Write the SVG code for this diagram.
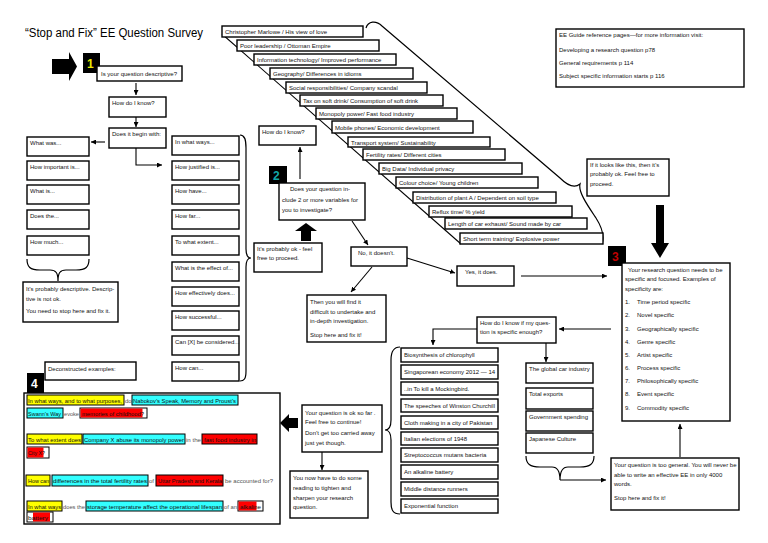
<svg xmlns="http://www.w3.org/2000/svg" width="768" height="543" viewBox="0 0 768 543">
<defs>
<marker id="ah" markerWidth="5" markerHeight="5" refX="5" refY="2.5" orient="auto" markerUnits="userSpaceOnUse"><path d="M0,0 L5,2.5 L0,5 z" fill="#000"/></marker>
<style>
.b{fill:#fff;stroke:#000;stroke-width:1.4}
.t{font-family:"Liberation Sans",Arial,sans-serif;font-size:6px;fill:#111}
.g{font-family:"Liberation Sans",Arial,sans-serif;font-size:6px;fill:#555}
.ln{fill:none;stroke:#000;stroke-width:1.1}
.ar{fill:none;stroke:#000;stroke-width:1.1;marker-end:url(#ah)}
.br{fill:none;stroke:#000;stroke-width:1.2}
.num{font-family:"Liberation Sans",Arial,sans-serif;font-size:12px;font-weight:bold}
.hy{fill:#ffff00;stroke:#000;stroke-width:1}
.hc{fill:#33ffff;stroke:#000;stroke-width:1}
.hr{fill:#ff0000;stroke:#000;stroke-width:1}
.hw{fill:#fff;stroke:#000;stroke-width:1}
</style>
</defs>
<rect width="768" height="543" fill="#fff"/>
<text x="25" y="37" font-family="Liberation Sans,Arial,sans-serif" font-size="12.5" textLength="178" lengthAdjust="spacingAndGlyphs">“Stop and Fix” EE Question Survey</text>

<g id="connectors">
<polygon points="52,59 69,59 69,52 77,66.5 69,81 69,74 52,74" fill="#000"/>
<line class="ar" x1="136" y1="83" x2="136" y2="95"/>
<line class="ar" x1="136" y1="117" x2="136" y2="127"/>
<line class="ar" x1="105" y1="142" x2="91" y2="142"/>
<polyline class="ar" points="136,148 136,165 162,165"/>
<path class="br" d="M27,259 C27,267 30,270 40,270 L50,270 C56,270 58,273 58,281 C58,273 60,270 66,270 L76,270 C86,270 89,267 89,259"/>
<path class="br" d="M240,135 C245,135 246,140 246,148 L246,249 C246,255 248,258 251,258 C248,258 246,261 246,267 L246,371 C246,379 244,381 240,381"/>
<line class="ar" x1="300" y1="179" x2="300" y2="147"/>
<polygon points="306,223 317,231 311,231 311,241 301,241 301,231 295,231" fill="#000"/>
<line class="ar" x1="352" y1="221" x2="368" y2="245"/>
<line class="ar" x1="407" y1="258" x2="455" y2="273"/>
<line class="ar" x1="372" y1="267" x2="351" y2="292"/>
<line class="ar" x1="521" y1="276" x2="607" y2="276"/>
<line class="ln" x1="222" y1="34" x2="461" y2="244"/>
<path class="br" d="M366,28 C368,21 376,20 382,26 L560,178 C567,185 574,189 580,184 C578,192 588,206 596,218 C603,229 604,238 602,244"/>
<polygon points="656,205 664,205 664,243 669,243 660,258 651,243 656,243" fill="#000"/>
<line class="ar" x1="611" y1="329" x2="559" y2="329"/>
<polyline class="ar" points="477,329 433,329 433,345"/>
<line class="ar" x1="546" y1="343" x2="546" y2="362"/>
<path class="br" d="M400,347 C393,347 391,352 391,360 L391,420 C391,427 389,430 385,430 C389,430 391,433 391,440 L391,502 C391,510 393,514 400,514"/>
<path class="br" d="M526,456 C526,464 530,467 540,467 L552,467 C557,467 560,471 560,480 C560,471 563,467 568,467 L580,467 C590,467 594,464 594,456"/>
<line class="ar" x1="560" y1="480" x2="606" y2="480"/>
<line class="ar" x1="680" y1="457" x2="680" y2="424"/>
<polygon points="280,423 289,414 289,418 298,418 298,428 289,428 289,432" fill="#000"/>
<line class="ar" x1="322" y1="452" x2="322" y2="470"/>
</g>

<g id="n1"><rect x="83" y="53" width="17" height="20" fill="#000"/><text class="num" x="87" y="68" fill="#e8e800">1</text></g>
<g id="q1"><rect class="b" x="97" y="66" width="85" height="15"/><text class="t" x="101" y="75.5">Is your question descriptive?</text></g>
<g id="how1"><rect class="b" x="109" y="97" width="57" height="20"/><text class="t" x="112" y="105">How do I know?</text></g>
<g id="begin"><rect class="b" x="109" y="128" width="57" height="20"/><text class="t" x="112" y="136">Does it begin with:</text></g>

<g id="left-col">
<rect class="b" x="27" y="137" width="62" height="19"/><text class="t" x="30" y="145">What was...</text>
<rect class="b" x="27" y="161" width="62" height="19"/><text class="t" x="30" y="169">How important is...</text>
<rect class="b" x="27" y="185" width="62" height="19"/><text class="t" x="30" y="193">What is...</text>
<rect class="b" x="27" y="210" width="62" height="19"/><text class="t" x="30" y="218">Does the...</text>
<rect class="b" x="27" y="236" width="62" height="19"/><text class="t" x="30" y="244">How much...</text>
</g>
<g id="descr"><rect class="b" x="23" y="282" width="95" height="40"/>
<text class="t" x="26" y="291">It’s probably descriptive. Descrip-</text>
<text class="t" x="26" y="301">tive is not ok.</text>
<text class="t" x="26" y="313">You need to stop here and fix it.</text></g>

<g id="right-col">
<rect class="b" x="172" y="136" width="67" height="19"/><text class="t" x="175" y="144">In what ways...</text>
<rect class="b" x="172" y="161" width="67" height="19"/><text class="t" x="175" y="169">How justified is...</text>
<rect class="b" x="172" y="185" width="67" height="19"/><text class="t" x="175" y="193">How have...</text>
<rect class="b" x="172" y="210" width="67" height="19"/><text class="t" x="175" y="218">How far...</text>
<rect class="b" x="172" y="236" width="67" height="19"/><text class="t" x="175" y="244">To what extent...</text>
<rect class="b" x="172" y="262" width="67" height="19"/><text class="t" x="175" y="270">What is the effect of...</text>
<rect class="b" x="172" y="287" width="67" height="19"/><text class="t" x="175" y="295">How effectively does...</text>
<rect class="b" x="172" y="311" width="67" height="19"/><text class="t" x="175" y="319">How successful...</text>
<rect class="b" x="172" y="336" width="67" height="19"/><text class="t" x="175" y="344">Can [X] be considered...</text>
<rect class="b" x="172" y="362" width="67" height="19"/><text class="t" x="175" y="370">How can...</text>
</g>

<g id="stairs">
<rect class="b" x="222" y="26" width="141" height="11"/><text class="t" x="225" y="34">Christopher Marlowe / His view of love</text>
<rect class="b" x="237" y="40" width="142" height="11"/><text class="t" x="240" y="48">Poor leadership / Ottoman Empire</text>
<rect class="b" x="254" y="54" width="142" height="11"/><text class="t" x="257" y="62">Information technology/ Improved performance</text>
<rect class="b" x="270" y="68" width="143" height="11"/><text class="t" x="273" y="76">Geography/ Differences in idioms</text>
<rect class="b" x="286" y="82" width="141" height="11" stroke-width="2"/><text class="t" x="289" y="90">Social responsibilities/ Company scandal</text>
<rect class="b" x="300" y="95" width="143" height="11"/><text class="t" x="303" y="103">Tax on soft drink/ Consumption of soft drink</text>
<rect class="b" x="316" y="108" width="141" height="11"/><text class="t" x="319" y="116">Monopoly power/ Fast food industry</text>
<rect class="b" x="332" y="121" width="141" height="12"/><text class="t" x="335" y="129.5">Mobile phones/ Economic development</text>
<rect class="b" x="348" y="137" width="142" height="10"/><text class="t" x="351" y="144.5">Transport system/ Sustainability</text>
<rect class="b" x="363" y="149" width="142" height="11"/><text class="t" x="366" y="157">Fertility rates/ Different cities</text>
<rect class="b" x="379" y="163" width="143" height="11" stroke-width="1.8"/><text class="t" x="382" y="171">Big Data/ Individual privacy</text>
<rect class="b" x="396" y="177" width="142" height="11"/><text class="t" x="399" y="185">Colour choice/ Young children</text>
<rect class="b" x="413" y="192" width="143" height="11"/><text class="t" x="416" y="200">Distribution of plant A / Dependent on soil type</text>
<rect class="b" x="429" y="206" width="143" height="11"/><text class="t" x="432" y="214">Reflux time/ % yield</text>
<rect class="b" x="445" y="218" width="142" height="11" stroke-width="1.8"/><text class="t" x="448" y="226">Length of car exhaust/ Sound made by car</text>
<rect class="b" x="460" y="233" width="143" height="11"/><text class="t" x="463" y="241">Short term training/ Explosive power</text>
</g>

<g id="info"><rect class="b" x="556" y="29" width="188" height="58" stroke-width="1.6"/>
<text class="t" x="559" y="37">EE Guide reference pages—for more information visit:</text>
<text class="t" x="559" y="52">Developing a research question  p78</text>
<text class="t" x="559" y="65">General requirements p 114</text>
<text class="t" x="559" y="78">Subject specific information starts p 116</text></g>

<g id="how2"><rect class="b" x="259" y="126" width="57" height="19"/><text class="t" x="262" y="134">How do I know?</text></g>
<g id="n2"><rect x="269" y="166" width="18" height="18" fill="#000"/><text class="num" x="273" y="180" fill="#12a6a8">2</text></g>
<g id="q2"><rect class="b" x="279" y="183" width="86" height="37"/>
<text class="t" x="290" y="191">Does your question in-</text>
<text class="t" x="282" y="202">clude 2 or more variables for</text>
<text class="t" x="282" y="212">you to investigate?</text></g>
<g id="ok1"><rect class="b" x="254" y="243" width="68" height="29"/>
<text class="t" x="257" y="251">It’s probably ok  - feel</text>
<text class="t" x="257" y="260">free to proceed.</text></g>
<g id="no"><rect class="b" x="351" y="247" width="56" height="19"/><text class="t" x="358" y="255">No, it doesn’t.</text></g>
<g id="yes"><rect class="b" x="457" y="266" width="57" height="20"/><text class="t" x="465" y="274">Yes, it does.</text></g>
<g id="then"><rect class="b" x="307" y="295" width="79" height="47"/>
<text class="t" x="310" y="304">Then you will find it</text>
<text class="t" x="310" y="314">difficult to undertake and</text>
<text class="t" x="310" y="323">in-depth investigation.</text>
<text class="t" x="310" y="337">Stop here and fix it!</text></g>
<g id="looks"><rect class="b" x="587" y="159" width="82" height="37" stroke-width="1.6"/>
<text class="t" x="590" y="167">If it looks like this, then it’s</text>
<text class="t" x="590" y="176">probably ok. Feel free to</text>
<text class="t" x="590" y="186">proceed.</text></g>

<g id="n3"><rect x="608" y="246" width="18" height="20" fill="#000"/><text class="num" x="612" y="261" fill="#c00000">3</text></g>
<g id="spec"><rect class="b" x="622" y="263" width="108" height="158"/>
<text class="t" x="628" y="272">Your research question needs to be</text>
<text class="t" x="625" y="281">specific and focused. Examples of</text>
<text class="t" x="625" y="291">specificity are:</text>
<text class="t" x="625" y="304">1.</text><text class="t" x="637" y="304">Time period specific</text>
<text class="t" x="625" y="317">2.</text><text class="t" x="637" y="317">Novel specific</text>
<text class="t" x="625" y="331">3.</text><text class="t" x="637" y="331">Geographically specific</text>
<text class="t" x="625" y="344">4.</text><text class="t" x="637" y="344">Genre specific</text>
<text class="t" x="625" y="357">5.</text><text class="t" x="637" y="357">Artist specific</text>
<text class="t" x="625" y="370">6.</text><text class="t" x="637" y="370">Process specific</text>
<text class="t" x="625" y="383">7.</text><text class="t" x="637" y="383">Philosophically specific</text>
<text class="t" x="625" y="396">8.</text><text class="t" x="637" y="396">Event specific</text>
<text class="t" x="625" y="410">9.</text><text class="t" x="637" y="410">Commodity specific</text></g>

<g id="how3"><rect class="b" x="477" y="317" width="79" height="26"/>
<text class="t" x="480" y="325">How do I know if my ques-</text>
<text class="t" x="480" y="334">tion is specific enough?</text></g>

<g id="topics">
<rect class="b" x="401" y="348" width="97" height="14"/><text class="t" x="404" y="357">Biosynthesis of chlorophyll</text>
<rect class="b" x="401" y="365" width="97" height="14"/><text class="t" x="404" y="374">Singaporean economy 2012 — 14</text>
<rect class="b" x="401" y="382" width="97" height="13"/><text class="t" x="404" y="391">..in To kill a Mockingbird.</text>
<rect class="b" x="401" y="399" width="97" height="13"/><text class="t" x="404" y="408" textLength="91" lengthAdjust="spacingAndGlyphs">The speeches of Winston Churchill</text>
<rect class="b" x="401" y="416" width="97" height="13"/><text class="t" x="404" y="425">Cloth making in a city of Pakistan</text>
<rect class="b" x="401" y="432" width="97" height="13"/><text class="t" x="404" y="441">Italian elections of 1948</text>
<rect class="b" x="401" y="448" width="97" height="14"/><text class="t" x="404" y="457">Streptococcus mutans  bacteria</text>
<rect class="b" x="401" y="465" width="97" height="14"/><text class="t" x="404" y="474">An alkaline battery</text>
<rect class="b" x="401" y="482" width="97" height="14"/><text class="t" x="404" y="491">Middle distance runners</text>
<rect class="b" x="401" y="499" width="97" height="14"/><text class="t" x="404" y="508">Exponential function</text>
</g>

<g id="general-col">
<rect class="b" x="526" y="363" width="67" height="20"/><text class="t" x="529" y="371">The global car industry</text>
<rect class="b" x="526" y="388" width="67" height="21"/><text class="t" x="529" y="396">Total exports</text>
<rect class="b" x="526" y="411" width="67" height="20"/><text class="t" x="529" y="419">Government spending</text>
<rect class="b" x="526" y="433" width="67" height="20"/><text class="t" x="529" y="441">Japanese Culture</text>
</g>

<g id="general"><rect class="b" x="611" y="458" width="128" height="52"/>
<text class="t" x="614" y="467">Your question is too general. You will never be</text>
<text class="t" x="614" y="477">able to write an effective EE in only 4000</text>
<text class="t" x="614" y="486">words.</text>
<text class="t" x="614" y="500">Stop here and fix it!</text></g>

<g id="okfar"><rect class="b" x="302" y="405" width="80" height="47"/>
<text class="t" x="305" y="415">Your question is ok so far .</text>
<text class="t" x="305" y="424">Feel free to continue!</text>
<text class="t" x="305" y="435">Don’t get too carried away</text>
<text class="t" x="305" y="445">just yet though.</text></g>
<g id="reading"><rect class="b" x="290" y="471" width="78" height="47"/>
<text class="t" x="293" y="480">You now have to do some</text>
<text class="t" x="293" y="490">reading to tighten and</text>
<text class="t" x="293" y="500">sharpen your research</text>
<text class="t" x="293" y="509">question.</text></g>

<g id="decon"><rect class="b" x="45" y="362" width="91" height="18"/><text class="t" x="48" y="371">Deconstructed examples:</text></g>
<g id="n4"><rect x="27" y="373" width="17" height="20" fill="#000"/><text class="num" x="31" y="388" fill="#fff">4</text></g>
<g id="examples"><rect class="b" x="24" y="393" width="256" height="131"/>
<rect class="hy" x="27" y="395" width="97" height="10"/><text class="t" x="28" y="402.5" textLength="94" lengthAdjust="spacingAndGlyphs">In what ways, and to what purposes,</text>
<text class="g" x="125" y="402.5">do</text>
<rect class="hc" x="132" y="395" width="106" height="10"/><text class="t" x="133" y="402.5" textLength="103" lengthAdjust="spacingAndGlyphs">Nabokov’s Speak, Memory and Proust’s</text>
<rect class="hc" x="27" y="408" width="36" height="10"/><text class="t" x="28" y="415.5" textLength="33" lengthAdjust="spacingAndGlyphs">Swann’s Way</text>
<text class="g" x="64" y="415.5" textLength="15" lengthAdjust="spacingAndGlyphs">evoke</text>
<rect class="hw" x="80" y="408" width="67" height="10"/><rect x="80.5" y="408.5" width="62" height="9" fill="#ff0000"/><text class="t" x="82" y="415.5" textLength="62" lengthAdjust="spacingAndGlyphs">memories of childhood?</text>
<rect class="hy" x="27" y="434" width="55" height="10"/><text class="t" x="28" y="441.5" textLength="53" lengthAdjust="spacingAndGlyphs">To what extent does</text>
<rect class="hc" x="83" y="434" width="102" height="10"/><text class="t" x="84" y="441.5" textLength="100" lengthAdjust="spacingAndGlyphs">Company X abuse its monopoly power</text>
<text class="g" x="186" y="441.5" textLength="15" lengthAdjust="spacingAndGlyphs">in the</text>
<rect class="hr" x="202" y="434" width="55" height="10"/><text class="t" x="204" y="441.5" textLength="52" lengthAdjust="spacingAndGlyphs">fast food industry in</text>
<rect class="hw" x="27" y="447" width="22" height="11"/><rect x="27.5" y="447.5" width="16" height="10" fill="#ff0000"/><text class="t" x="28" y="455" textLength="17" lengthAdjust="spacingAndGlyphs">City X?</text>
<rect class="hy" x="26" y="475" width="24" height="11" stroke-width="1.6"/><text class="t" x="28" y="482.5" textLength="21" lengthAdjust="spacingAndGlyphs">How can</text>
<rect class="hc" x="52" y="475" width="96" height="11"/><text class="t" x="53" y="482.5" textLength="94" lengthAdjust="spacingAndGlyphs">differences in the total fertility rates</text>
<text class="g" x="149" y="482.5">of</text>
<rect class="hr" x="156" y="475" width="67" height="11"/><text class="t" x="158" y="482.5" textLength="64" lengthAdjust="spacingAndGlyphs">Uttar Pradesh and Kerala</text>
<text class="g" x="225" y="482.5" textLength="48" lengthAdjust="spacingAndGlyphs">be accounted for?</text>
<rect class="hy" x="27" y="501" width="35" height="10"/><text class="t" x="28" y="508.5" textLength="33" lengthAdjust="spacingAndGlyphs">In what ways</text>
<text class="g" x="63" y="508.5" textLength="22" lengthAdjust="spacingAndGlyphs">does the</text>
<rect class="hc" x="86" y="501" width="137" height="10"/><text class="t" x="87" y="508.5" textLength="135" lengthAdjust="spacingAndGlyphs">storage temperature affect the operational lifespan</text>
<text class="g" x="224" y="508.5" textLength="13" lengthAdjust="spacingAndGlyphs">of an</text>
<rect class="hw" x="238" y="501" width="25" height="10"/><rect x="238.5" y="501.5" width="18" height="9" fill="#ff0000"/><text class="t" x="240" y="508.5" textLength="21" lengthAdjust="spacingAndGlyphs">alkaline</text>
<rect class="hw" x="27" y="512" width="26" height="10"/><rect x="33" y="512.5" width="17" height="9" fill="#ff0000"/><text class="t" x="28" y="519.5" textLength="20" lengthAdjust="spacingAndGlyphs">battery</text>
</g>
</svg>
